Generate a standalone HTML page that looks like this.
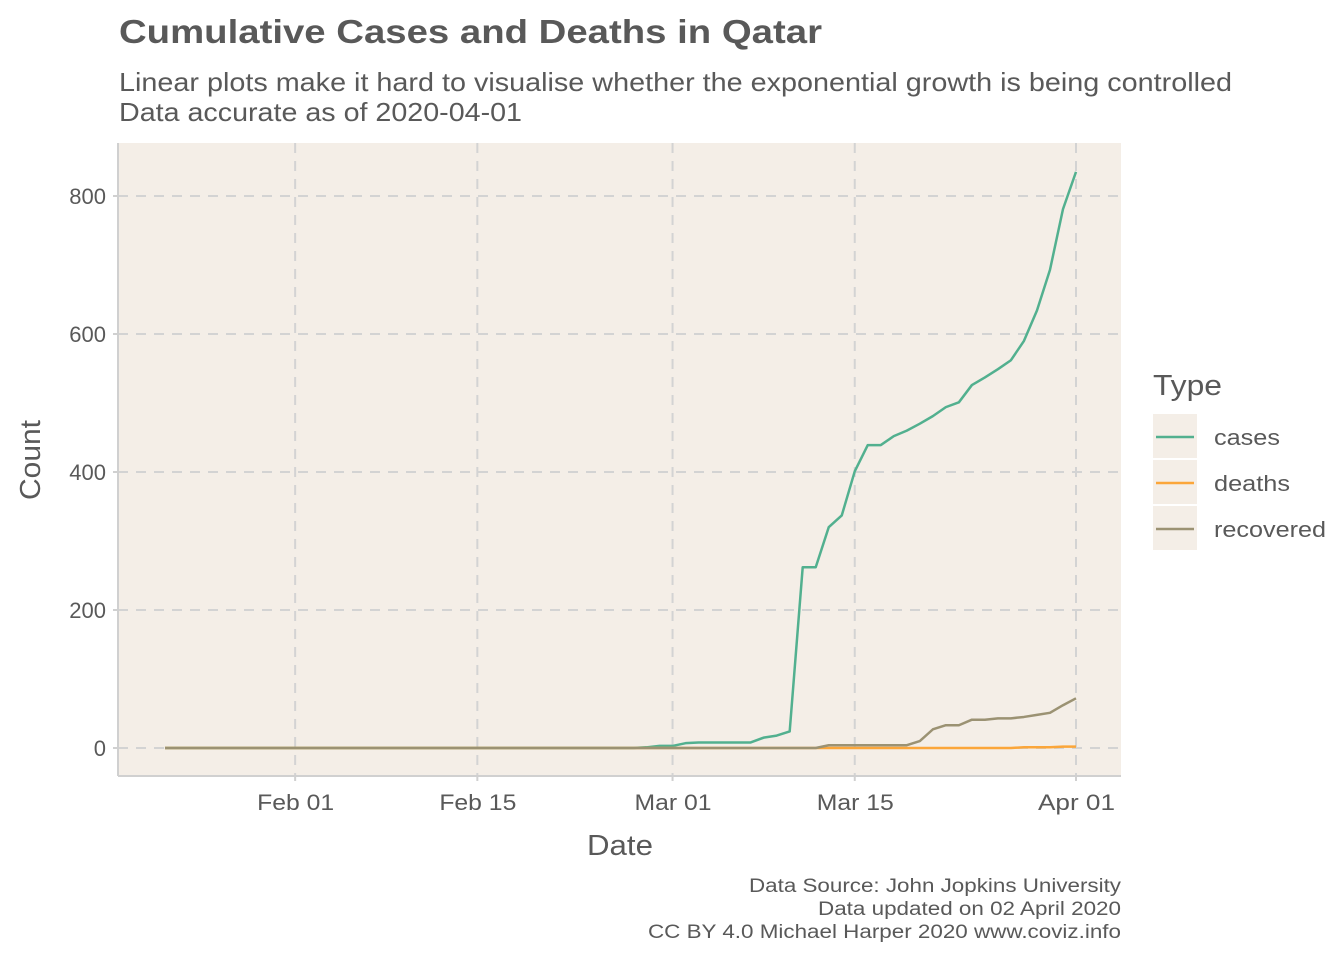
<!DOCTYPE html>
<html><head><meta charset="utf-8"><style>
body{margin:0;background:#fff;}
svg text{font-family:"Liberation Sans",Arial,sans-serif;fill:#595959;}
</style></head><body>
<svg width="1344" height="960" viewBox="0 0 1344 960">
<text x="119" y="43" font-size="33" font-weight="bold" textLength="703" lengthAdjust="spacingAndGlyphs">Cumulative Cases and Deaths in Qatar</text>
<text x="119" y="91" font-size="26" textLength="1113" lengthAdjust="spacingAndGlyphs">Linear plots make it hard to visualise whether the exponential growth is being controlled</text>
<text x="119" y="121" font-size="26" textLength="403" lengthAdjust="spacingAndGlyphs">Data accurate as of 2020-04-01</text>
<rect x="118" y="143" width="1003" height="633" fill="#f4eee7"/>
<g id="grid"></g>
<g id="series"></g>
<line x1="118" y1="143" x2="118" y2="776" stroke="#d0d0d0" stroke-width="2"/>
<line x1="118" y1="776" x2="1121" y2="776" stroke="#d0d0d0" stroke-width="2"/>
<g id="axes"></g>
<text x="587" y="855" font-size="29" textLength="66" lengthAdjust="spacingAndGlyphs">Date</text>
<text transform="translate(40,500) rotate(-90)" font-size="29" textLength="80" lengthAdjust="spacingAndGlyphs">Count</text>
<g>
<text x="1153" y="395" font-size="29" textLength="69" lengthAdjust="spacingAndGlyphs">Type</text>
<g><rect x="1153" y="414" width="44" height="44" fill="#f4eee7"/><line x1="1156" y1="437" x2="1194" y2="437" stroke="#52b08f" stroke-width="2.5"/><text x="1214" y="445" font-size="22" textLength="66" lengthAdjust="spacingAndGlyphs">cases</text></g>
<g><rect x="1153" y="460" width="44" height="44" fill="#f4eee7"/><line x1="1156" y1="483" x2="1194" y2="483" stroke="#fba63a" stroke-width="2.5"/><text x="1214" y="491" font-size="22" textLength="76" lengthAdjust="spacingAndGlyphs">deaths</text></g>
<g><rect x="1153" y="506" width="44" height="44" fill="#f4eee7"/><line x1="1156" y1="529" x2="1194" y2="529" stroke="#9b9273" stroke-width="2.5"/><text x="1214" y="537" font-size="22" textLength="112" lengthAdjust="spacingAndGlyphs">recovered</text></g>
</g>
<g>
<text x="749" y="892" font-size="19" textLength="372" lengthAdjust="spacingAndGlyphs">Data Source: John Jopkins University</text>
<text x="818" y="915" font-size="19" textLength="303" lengthAdjust="spacingAndGlyphs">Data updated on 02 April 2020</text>
<text x="648" y="938" font-size="19" textLength="473" lengthAdjust="spacingAndGlyphs">CC BY 4.0 Michael Harper 2020 www.coviz.info</text>
</g>
</svg>
<script>
// days from 2020-01-22 (index 0) to 2020-04-01 (index 70)
const startLabel = "2020-01-22";
const casesTail = [1,3,3,7,8,8,8,8,8,15,18,24,262,262,320,337,401,439,439,452,460,470,481,494,501,526,537,549,562,590,634,693,781,835]; // Feb 28 .. Apr 01
const deathsTail = [0,0,0,0,0,0,0,0,0,0,0,0,0,0,0,0,0,0,0,0,0,0,0,0,0,0,0,0,0,1,1,1,2,2];
const recoveredTail = [0,0,0,0,0,0,0,0,0,0,0,0,0,0,4,4,4,4,4,4,4,10,27,33,33,41,41,43,43,45,48,51,62,72];
const yTicks = [0,200,400,600,800];
const xTickLabels = ["Feb 01","Feb 15","Mar 01","Mar 15","Apr 01"];
const xTickDays = [10,24,39,53,70];

const NS="http://www.w3.org/2000/svg";
const nDays=71;
function pad(arr){const lead=nDays-arr.length;return new Array(lead).fill(0).concat(arr);}
const cases=pad(casesTail), deaths=pad(deathsTail), recovered=pad(recoveredTail);
const x=d=>165+d*(1076-165)/70;
const y=v=>748-v*(748-196)/800;
function mk(tag,attrs,parent){const e=document.createElementNS(NS,tag);for(const k in attrs)e.setAttribute(k,attrs[k]);parent.appendChild(e);return e;}
const grid=document.getElementById('grid'), axes=document.getElementById('axes'), series=document.getElementById('series');
yTicks.forEach(v=>{
  const l=mk('line',{x1:118,x2:1121,y1:y(v),y2:y(v),stroke:'#d3d3d3','stroke-width':2,'stroke-dasharray':'10,8'},grid);
  
  
  const t=mk('line',{x1:113,x2:118,y1:y(v),y2:y(v),stroke:'#d0d0d0','stroke-width':2},axes);
  
  
  const tx=mk('text',{x:106,y:y(v)+8,'font-size':22,'text-anchor':'end'},axes);
  tx.textContent=v;
  
  
});
xTickDays.forEach((d,i)=>{
  const l=mk('line',{x1:x(d),x2:x(d),y1:143,y2:776,stroke:'#d3d3d3','stroke-width':2,'stroke-dasharray':'10,8'},grid);
  
  
  const t=mk('line',{x1:x(d),x2:x(d),y1:776,y2:781,stroke:'#d0d0d0','stroke-width':2},axes);
  
  
  const tx=mk('text',{x:x(d)-38,y:810,'font-size':22,textLength:77,lengthAdjust:'spacingAndGlyphs'},axes);
  tx.textContent=xTickLabels[i];
  
  
});
function line(vals,color,name){
  const p=mk('polyline',{points:vals.map((v,i)=>x(i)+','+y(v)).join(' '),fill:'none',stroke:color,'stroke-width':2.5,'stroke-linejoin':'round'},series);
  
  
}
line(cases,'#52b08f','cases-line');
line(deaths,'#fba63a','deaths-line');
line(recovered,'#9b9273','recovered-line');
</script>
</body></html>
